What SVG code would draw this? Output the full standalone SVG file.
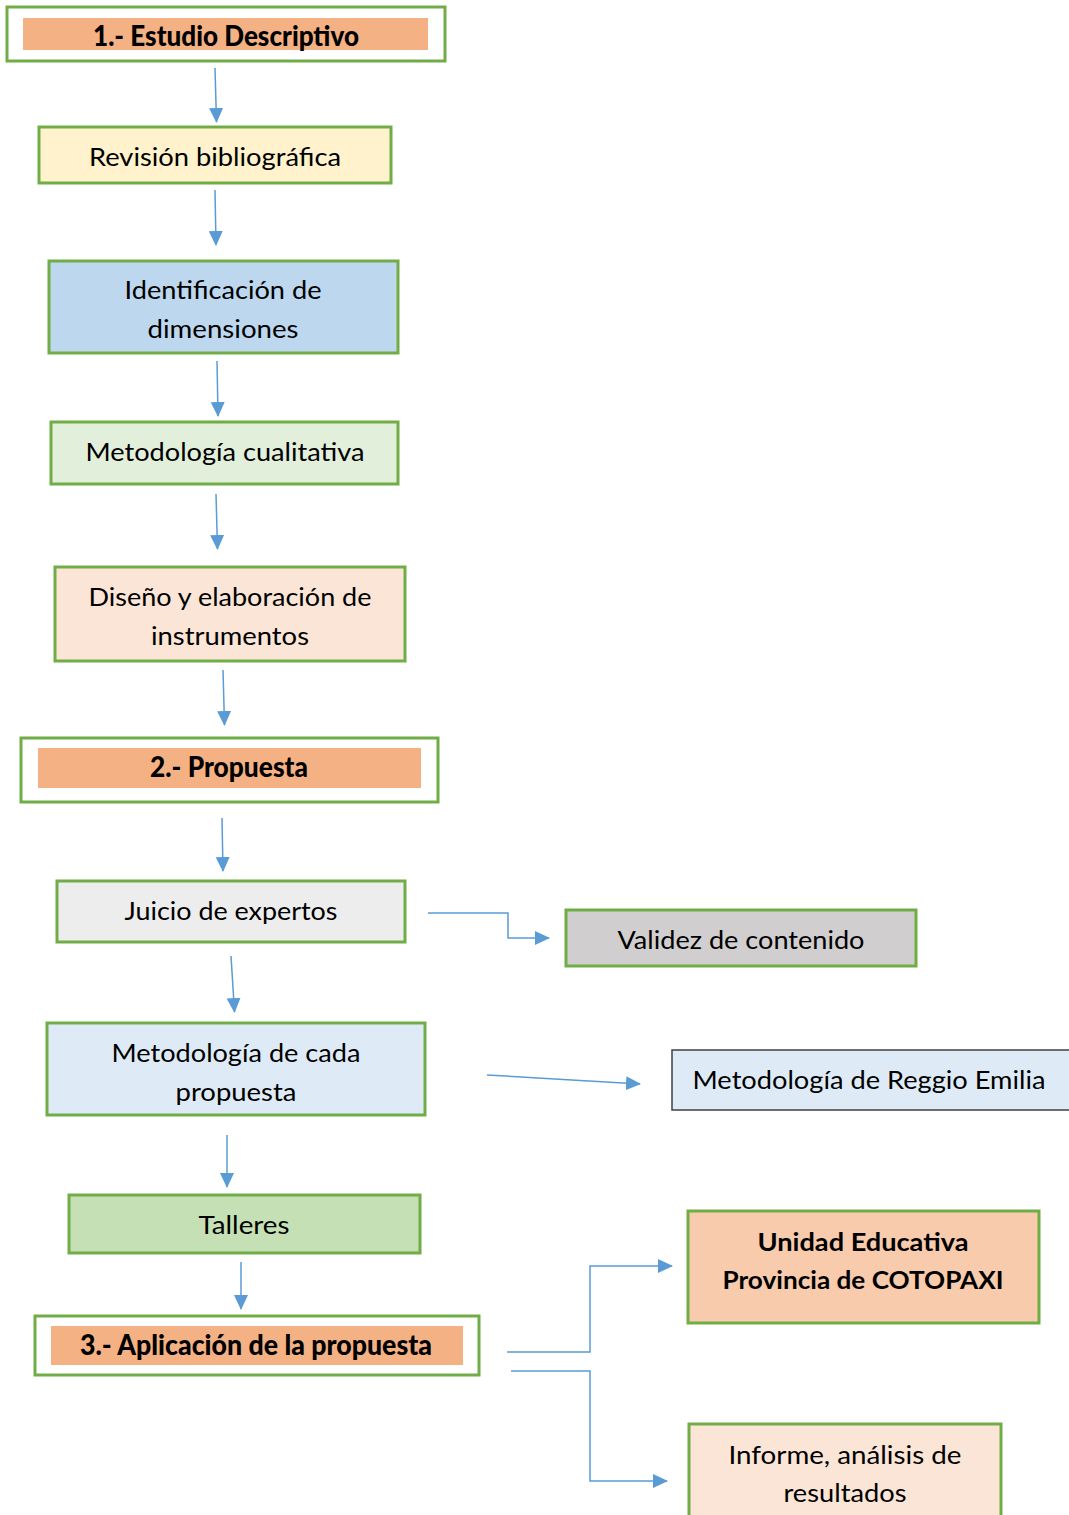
<svg xmlns="http://www.w3.org/2000/svg" width="1069" height="1515" viewBox="0 0 1069 1515">
<style>
.box{stroke:#70AD47;stroke-width:3}
.t{font-family:Lato,"Open Sans","Liberation Sans",sans-serif;font-size:25px;fill:#000;text-anchor:middle}
.b{font-weight:bold}
.h{font-size:28px;font-weight:900}
.c{fill:none;stroke:#5B9BD5;stroke-width:1.5}
</style>
<defs>
<marker id="ah" markerWidth="15" markerHeight="15" refX="14" refY="7" orient="auto" markerUnits="userSpaceOnUse">
<path d="M0,0 L15,7 L0,14 Z" fill="#5B9BD5"/>
</marker>
</defs>
<rect width="1069" height="1515" fill="#fff"/>

<g id="n1">
<rect class="box" x="7" y="7" width="438" height="54" fill="#fff"/>
<rect x="23" y="18" width="405" height="32" fill="#F4B183"/>
<text class="t h" x="226" y="46" textLength="266" lengthAdjust="spacingAndGlyphs">1.- Estudio Descriptivo</text>
</g>
<g id="n2">
<rect class="box" x="39" y="127" width="352" height="56" fill="#FFF2CC"/>
<text class="t" x="215" y="166" textLength="252" lengthAdjust="spacingAndGlyphs">Revisión bibliográfica</text>
</g>
<g id="n3">
<rect class="box" x="49" y="261" width="349" height="92" fill="#BDD7EE"/>
<text class="t" x="223" y="299" textLength="197" lengthAdjust="spacingAndGlyphs">Identificación de</text>
<text class="t" x="223" y="338" textLength="151" lengthAdjust="spacingAndGlyphs">dimensiones</text>
</g>
<g id="n4">
<rect class="box" x="51" y="422" width="347" height="62" fill="#E2EFDA"/>
<text class="t" x="225" y="461" textLength="279" lengthAdjust="spacingAndGlyphs">Metodología cualitativa</text>
</g>
<g id="n5">
<rect class="box" x="55" y="567" width="350" height="94" fill="#FBE5D6"/>
<text class="t" x="230" y="606" textLength="283" lengthAdjust="spacingAndGlyphs">Diseño y elaboración de</text>
<text class="t" x="230" y="645" textLength="158" lengthAdjust="spacingAndGlyphs">instrumentos</text>
</g>
<g id="n6">
<rect class="box" x="21" y="738" width="417" height="64" fill="#fff"/>
<rect x="38" y="748" width="383" height="40" fill="#F4B183"/>
<text class="t h" x="229" y="777" textLength="158" lengthAdjust="spacingAndGlyphs">2.- Propuesta</text>
</g>
<g id="n7">
<rect class="box" x="57" y="881" width="348" height="61" fill="#EDEDED"/>
<text class="t" x="231" y="920" textLength="213" lengthAdjust="spacingAndGlyphs">Juicio de expertos</text>
</g>
<g id="n8">
<rect class="box" x="566" y="910" width="350" height="56" fill="#D0CECE"/>
<text class="t" x="741" y="949" textLength="247" lengthAdjust="spacingAndGlyphs">Validez de contenido</text>
</g>
<g id="n9">
<rect class="box" x="47" y="1023" width="378" height="92" fill="#DEEBF7"/>
<text class="t" x="236" y="1062" textLength="249" lengthAdjust="spacingAndGlyphs">Metodología de cada</text>
<text class="t" x="236" y="1101" textLength="121" lengthAdjust="spacingAndGlyphs">propuesta</text>
</g>
<g id="n10">
<rect x="672" y="1050" width="400" height="60" fill="#DEEBF7" stroke="#404040" stroke-width="1.5"/>
<text class="t" x="869" y="1089" textLength="353" lengthAdjust="spacingAndGlyphs">Metodología de Reggio Emilia</text>
</g>
<g id="n11">
<rect class="box" x="69" y="1195" width="351" height="58" fill="#C5E0B4"/>
<text class="t" x="244" y="1234" textLength="91" lengthAdjust="spacingAndGlyphs">Talleres</text>
</g>
<g id="n12">
<rect class="box" x="35" y="1316" width="444" height="59" fill="#fff"/>
<rect x="51" y="1326" width="412" height="39" fill="#F4B183"/>
<text class="t h" x="256" y="1355" textLength="352" lengthAdjust="spacingAndGlyphs">3.- Aplicación de la propuesta</text>
</g>
<g id="n13">
<rect class="box" x="688" y="1211" width="351" height="112" fill="#F8CBAD"/>
<text class="t b" x="863" y="1251" textLength="211" lengthAdjust="spacingAndGlyphs">Unidad Educativa</text>
<text class="t b" x="863" y="1289" textLength="281" lengthAdjust="spacingAndGlyphs">Provincia de COTOPAXI</text>
</g>
<g id="n14">
<rect class="box" x="689" y="1424" width="312" height="100" fill="#FBE5D6"/>
<text class="t" x="845" y="1464" textLength="233" lengthAdjust="spacingAndGlyphs">Informe, análisis de</text>
<text class="t" x="845" y="1502" textLength="123" lengthAdjust="spacingAndGlyphs">resultados</text>
</g>

<g id="connectors">
<path class="c" d="M215,68 L216.5,122" marker-end="url(#ah)"/>
<path class="c" d="M215,190 L216,245" marker-end="url(#ah)"/>
<path class="c" d="M217,361 L218,416" marker-end="url(#ah)"/>
<path class="c" d="M216,494 L217.5,549" marker-end="url(#ah)"/>
<path class="c" d="M223,670 L224.5,725" marker-end="url(#ah)"/>
<path class="c" d="M222,818 L223,871" marker-end="url(#ah)"/>
<path class="c" d="M428,913 L508,913 L508,938 L549,938" marker-end="url(#ah)"/>
<path class="c" d="M231,956 L234.5,1012" marker-end="url(#ah)"/>
<path class="c" d="M487,1075 L640,1084" marker-end="url(#ah)"/>
<path class="c" d="M227,1135 L227,1187" marker-end="url(#ah)"/>
<path class="c" d="M241,1262 L241,1309" marker-end="url(#ah)"/>
<path class="c" d="M507,1352 L590,1352 L590,1266 L672,1266" marker-end="url(#ah)"/>
<path class="c" d="M511,1371 L590,1371 L590,1481 L667,1481" marker-end="url(#ah)"/>
</g>
</svg>
